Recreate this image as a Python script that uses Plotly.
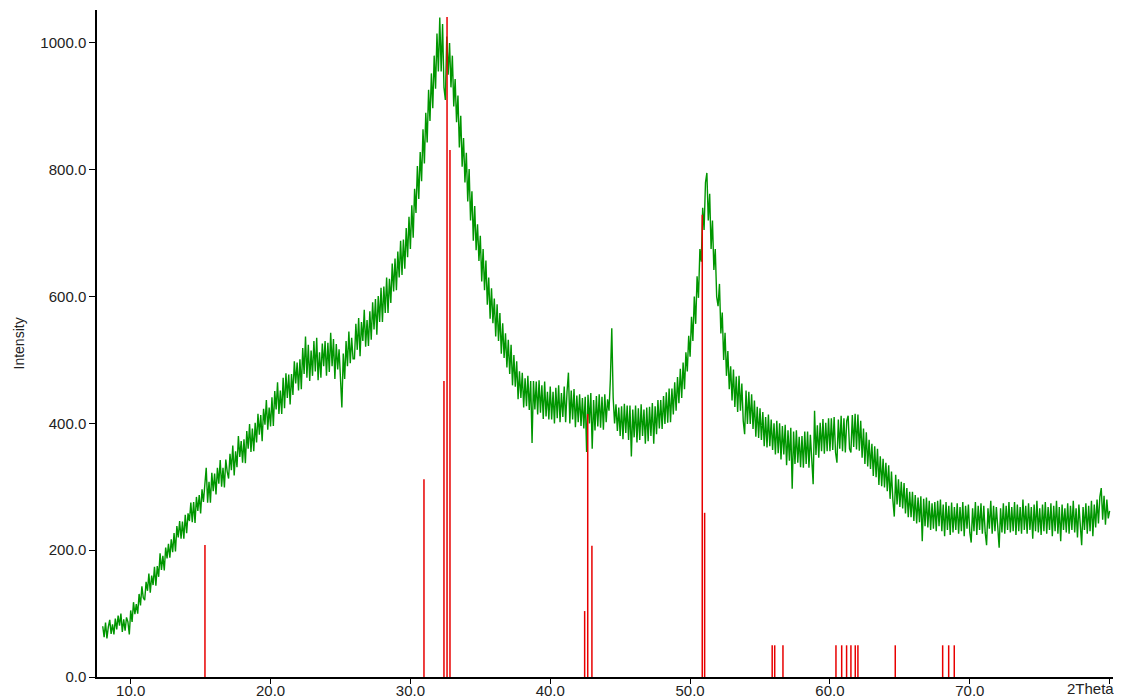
import plotly.graph_objects as go

# ---- measured pattern (2Theta scan, 0.1 deg step) ----
scan_start = 8.0
scan_step = 0.1

int_08_20 = [
    80, 63, 86, 61, 79, 90, 68, 83, 67, 92,
    75, 97, 81, 100, 71, 91, 73, 94, 87, 67,
    105, 87, 118, 99, 115, 100, 131, 113, 143, 125,
    121, 150, 136, 163, 133, 160, 145, 174, 144, 175,
    158, 195, 169, 191, 168, 204, 187, 210, 188, 217,
    197, 227, 198, 238, 220, 246, 218, 245, 218, 256,
    227, 258, 246, 275, 244, 276, 243, 284, 262, 287,
    258, 296, 276, 309, 330, 275, 308, 275, 322, 293,
    321, 288, 330, 305, 342, 300, 330, 299, 343, 324,
    313, 352, 326, 365, 318, 356, 331, 380, 347, 372,
    338, 375, 337, 388, 360, 399, 355, 392, 356, 401,
    370, 415, 382, 413, 372, 423, 398, 437, 390, 425,
]
int_20_32 = [
    395, 441, 396, 451, 422, 465, 415, 452, 415, 472,
    424, 479, 440, 477, 430, 478, 445, 498, 463, 496,
    452, 501, 454, 519, 478, 537, 472, 524, 467, 515,
    475, 530, 482, 535, 468, 512, 472, 526, 490, 530,
    475, 527, 481, 543, 490, 533, 470, 525, 485, 517,
    480, 425, 510, 470, 530, 490, 545, 495, 535, 502,
    502, 557, 516, 566, 506, 560, 530, 579, 521, 563,
    522, 577, 532, 591, 548, 596, 540, 601, 560, 614,
    560, 616, 574, 630, 574, 628, 590, 652, 608, 660,
    610, 671, 630, 688, 634, 690, 644, 708, 662, 726,
    675, 744, 693, 770, 732, 806, 754, 828, 782, 864,
    810, 890, 843, 926, 877, 952, 897, 980, 928, 1015,
]
int_32_44 = [
    955, 1040, 955, 1030, 930, 910, 1010, 950, 1000, 930,
    980, 900, 943, 875, 917, 835, 885, 805, 850, 780,
    827, 750, 801, 720, 766, 688, 743, 673, 714, 656,
    696, 624, 675, 610, 657, 587, 630, 565, 613, 558,
    597, 537, 588, 530, 574, 510, 558, 503, 542, 488,
    532, 478, 524, 460, 508, 458, 498, 438, 482, 440,
    480, 425, 471, 427, 475, 421, 467, 369, 467, 422,
    466, 414, 468, 417, 460, 407, 466, 411, 450, 406,
    458, 406, 450, 400, 456, 408, 460, 402, 448, 410,
    458, 402, 450, 480, 400, 452, 406, 454, 394, 444,
    402, 446, 396, 440, 392, 442, 355, 445, 400, 448,
    360, 437, 389, 443, 395, 446, 393, 442, 390, 446,
]
int_44_56 = [
    402, 438, 420, 470, 550, 440, 400, 430, 388, 425,
    380, 427, 375, 431, 385, 428, 374, 428, 348, 422,
    378, 428, 370, 424, 374, 430, 380, 422, 368, 425,
    372, 426, 380, 432, 368, 427, 383, 437, 392, 437,
    391, 443, 399, 449, 401, 455, 402, 455, 414, 465,
    420, 473, 432, 486, 440, 496, 454, 512, 482, 538,
    505, 568, 530, 600, 557, 632, 598, 675, 655, 740,
    705, 780, 795, 720, 762, 675, 720, 642, 675, 600,
    585, 620, 542, 575, 500, 543, 475, 514, 454, 490,
    436, 485, 426, 474, 418, 475, 420, 463, 404, 383,
    452, 399, 450, 399, 446, 391, 436, 379, 426, 377,
    424, 374, 418, 364, 410, 362, 414, 364, 406, 358,
]
int_56_68 = [
    400, 351, 404, 353, 400, 343, 396, 351, 398, 334,
    389, 341, 393, 297, 387, 336, 389, 338, 379, 331,
    380, 330, 387, 336, 387, 330, 382, 336, 304, 420,
    350, 397, 346, 401, 356, 407, 352, 401, 356, 408,
    356, 408, 358, 410, 354, 338, 406, 360, 412, 356,
    408, 354, 404, 412, 360, 354, 413, 363, 415, 359,
    414, 357, 404, 346, 392, 336, 386, 332, 374, 328,
    368, 317, 364, 315, 360, 303, 348, 301, 344, 299,
    338, 293, 334, 281, 324, 279, 253, 319, 272, 312,
    268, 308, 266, 306, 258, 298, 252, 292, 252, 292,
    246, 287, 242, 283, 244, 285, 214, 281, 238, 283,
    236, 278, 232, 274, 234, 276, 230, 278, 238, 280,
]
int_68_80 = [
    230, 272, 222, 276, 232, 270, 224, 275, 228, 268,
    232, 274, 226, 268, 230, 276, 222, 270, 234, 272,
    228, 212, 266, 230, 276, 224, 270, 232, 274, 226,
    270, 228, 208, 266, 234, 278, 226, 270, 230, 268,
    232, 204, 266, 228, 274, 226, 270, 232, 276, 228,
    268, 230, 276, 224, 272, 230, 268, 226, 280, 232,
    270, 226, 274, 232, 268, 218, 272, 230, 278, 228,
    266, 224, 272, 230, 276, 226, 268, 232, 274, 222,
    270, 230, 278, 226, 268, 214, 272, 232, 266, 228,
    274, 226, 270, 232, 278, 228, 266, 220, 272, 230,
    208, 268, 232, 274, 226, 270, 230, 278, 222, 272,
    236, 280, 242, 284, 298, 248, 286, 240, 280, 250,
    262,
]

# ---- reference pattern (stick positions / intensities) ----
ref_pos = [15.31, 30.97, 32.40, 32.62, 32.83, 42.46, 42.68, 42.98, 50.87, 51.04,
           55.87, 56.05, 56.64, 60.43, 60.84, 61.19, 61.50, 61.81, 62.00,
           64.67, 68.06, 68.49, 68.89]
ref_int = [208, 312, 467, 1041, 831, 104, 415, 207, 729, 259,
           50, 50, 50, 50, 50, 50, 50, 50, 50,
           50, 50, 50, 50]

x_tick_vals = [10, 20, 30, 40, 50, 60, 70, 80]
x_tick_text = ["10.0", "20.0", "30.0", "40.0", "50.0", "60.0", "70.0", ""]
x_axis_name = "2Theta"
y_tick_vals = [0, 200, 400, 600, 800, 1000]
y_tick_text = ["0.0", "200.0", "400.0", "600.0", "800.0", "1000.0"]
y_axis_name = "Intensity"

intensity = int_08_20 + int_20_32 + int_32_44 + int_44_56 + int_56_68 + int_68_80
two_theta = [round(scan_start + scan_step * i, 2) for i in range(len(intensity))]

stick_x, stick_y = [], []
for p, h in zip(ref_pos, ref_int):
    stick_x += [p, p, None]
    stick_y += [0, h, None]

fig = go.Figure()
fig.add_trace(go.Scatter(
    x=two_theta, y=intensity, mode="lines",
    line=dict(color="#009600", width=1.4),
    showlegend=False, hoverinfo="x+y",
))
fig.add_trace(go.Scatter(
    x=stick_x, y=stick_y, mode="lines",
    line=dict(color="#e80000", width=1.5),
    showlegend=False, hoverinfo="x+y",
))

# the page body adds an 8 px offset, so the figure is sized to fit the window
fig.update_layout(
    width=1114, height=692,
    margin=dict(l=89, r=9, t=2, b=23),
    plot_bgcolor="white", paper_bgcolor="white",
    font=dict(family="Liberation Sans, Arial, sans-serif", size=15, color="#222222"),
)
fig.update_xaxes(
    range=[7.59, 80.24], tickmode="array",
    tickvals=x_tick_vals, ticktext=x_tick_text,
    showline=True, linecolor="black", linewidth=1.5,
    ticks="outside", ticklen=5, tickcolor="black", tickwidth=1.2,
    ticklabelstandoff=-6,
    showgrid=False, zeroline=False, automargin=False,
)
fig.update_yaxes(
    range=[0, 1052], tickmode="array",
    tickvals=y_tick_vals, ticktext=y_tick_text,
    showline=True, linecolor="black", linewidth=1.5,
    ticks="outside", ticklen=6, tickcolor="black", tickwidth=1.2,
    showgrid=False, zeroline=False, automargin=False,
)
fig.add_annotation(
    text=y_axis_name, xref="paper", yref="paper", x=0, y=0.5,
    xanchor="center", yanchor="middle",
    xshift=-79, textangle=-90, showarrow=False,
    font=dict(size=14, color="#222222"),
)
fig.add_annotation(
    text=x_axis_name, xref="paper", yref="paper", x=1, y=0,
    xanchor="right", yanchor="middle",
    xshift=3, yshift=-11, showarrow=False,
    font=dict(size=15, color="#222222"),
)

fig.write_html("out.html")
